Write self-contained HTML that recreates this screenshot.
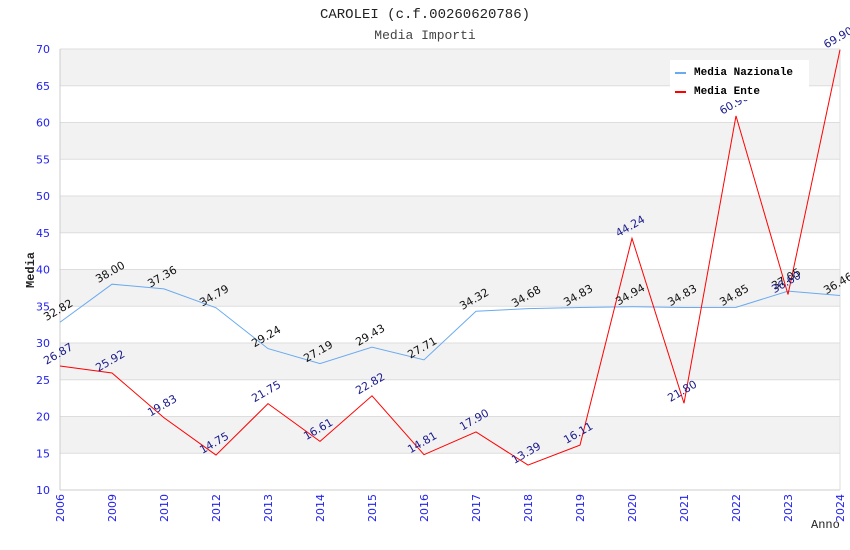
<!DOCTYPE html>
<html><head><meta charset="utf-8"><style>
body{margin:0;background:#fff}
svg{display:block}
</style></head><body>
<svg id="chart" width="850" height="550" xmlns="http://www.w3.org/2000/svg">
<text x="425" y="18" text-anchor="middle" font-family="Liberation Mono, monospace" font-size="14" fill="#222">CAROLEI (c.f.00260620786)</text>
<text x="425" y="39" text-anchor="middle" font-family="Liberation Mono, monospace" font-size="13" fill="#444">Media Importi</text>
<g id="bands"></g><g id="grid"></g><g id="axes"></g><g id="series"></g><g id="labels"></g>
<text transform="translate(34,270) rotate(-90)" text-anchor="middle" font-family="Liberation Mono, monospace" font-size="12" font-weight="bold" fill="#222">Media</text>
<text x="811" y="528" font-family="Liberation Mono, monospace" font-size="12" fill="#222">Anno</text>
<g>
<rect x="670" y="60" width="139" height="40" fill="#fff"/>
<line x1="675" y1="73" x2="686" y2="73" stroke="#6aaaf0" stroke-width="2"/>
<text x="694" y="75" font-family="Liberation Mono, monospace" font-size="11" font-weight="bold" fill="#000">Media Nazionale</text>
<line x1="675" y1="92" x2="686" y2="92" stroke="#ff0000" stroke-width="2"/>
<text x="694" y="94" font-family="Liberation Mono, monospace" font-size="11" font-weight="bold" fill="#000">Media Ente</text>
</g>
</svg>
<script>
const categories=["2006","2009","2010","2012","2013","2014","2015","2016","2017","2018","2019","2020","2021","2022","2023","2024"];
const nazionale=[32.82,38.00,37.36,34.79,29.24,27.19,29.43,27.71,34.32,34.68,34.83,34.94,34.83,34.85,37.05,36.46];
const ente=[26.87,25.92,19.83,14.75,21.75,16.61,22.82,14.81,17.90,13.39,16.11,44.24,21.80,60.90,36.60,69.90];
const yTicks=[10,15,20,25,30,35,40,45,50,55,60,65,70];
const NS='http://www.w3.org/2000/svg';
const X0=60,X1=840,Y0=490,Y1=49,YMIN=10,YMAX=70;
function xs(i){return X0+i*(X1-X0)/(categories.length-1);}
function ys(v){return Y0-(v-YMIN)*(Y0-Y1)/(YMAX-YMIN);}
function mk(tag,attrs,parent){const e=document.createElementNS(NS,tag);for(const k in attrs)e.setAttribute(k,attrs[k]);document.getElementById(parent).appendChild(e);return e;}
for(let i=0;i<yTicks.length-1;i++){
  const a=yTicks[i],b=yTicks[i+1];
  const fill=(i%2===1)?'#f2f2f2':'#ffffff';
  const r=mk('rect',{x:X0,y:ys(b),width:X1-X0,height:ys(a)-ys(b),fill:fill},'bands');
  
  
}
yTicks.forEach(t=>{
  const l=mk('line',{x1:X0,x2:X1,y1:ys(t),y2:ys(t),stroke:'#dddddd','stroke-width':1},'grid');
  
  
  const tx=mk('text',{x:X0-10,y:ys(t)+4,'text-anchor':'end','font-family':'DejaVu Sans, sans-serif','font-size':11,fill:'#2222ee'},'axes');
  tx.textContent=t;
  
  
});
const ya=mk('line',{x1:X0,x2:X0,y1:Y1,y2:Y0,stroke:'#cccccc'},'axes');


const xa=mk('line',{x1:X0,x2:X1,y1:Y0,y2:Y0,stroke:'#cccccc'},'axes');


const xr=mk('line',{x1:X1,x2:X1,y1:Y1,y2:Y0,stroke:'#dddddd'},'axes');


categories.forEach((c,i)=>{
  const t=mk('text',{transform:`translate(${xs(i)+4},${Y0+4}) rotate(-90)`,'text-anchor':'end','font-family':'DejaVu Sans, sans-serif','font-size':11,fill:'#2222ee'},'axes');
  t.textContent=c;
  
  
});
function series(vals,color,lblColor,name){
  const p=mk('polyline',{points:vals.map((v,i)=>xs(i)+','+ys(v)).join(' '),fill:'none',stroke:color,'stroke-width':1},'series');
  
  
  vals.forEach((v,i)=>{
    const t=mk('text',{transform:`translate(${xs(i)},${ys(v)-9}) rotate(-30)`,'text-anchor':'middle','font-family':'DejaVu Sans, sans-serif','font-size':11,fill:lblColor},'labels');
    t.textContent=v.toFixed(2);
    
    
  });
}
series(nazionale,'#6aaaf0','#111','nazionale');
series(ente,'#ff0000','#1a1a8c','ente');
</script>
</body></html>
